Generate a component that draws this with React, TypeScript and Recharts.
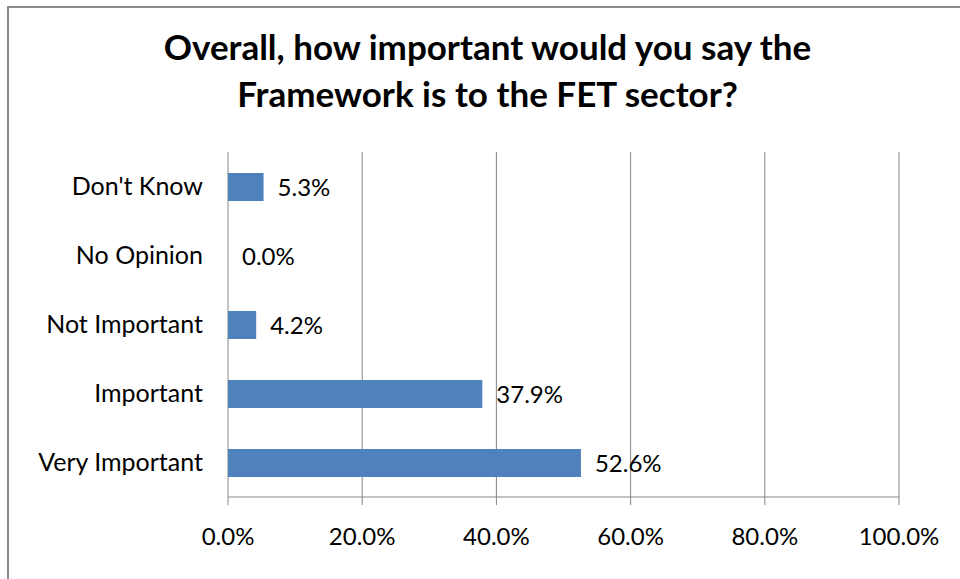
import * as React from "react";
import {
  BarChart,
  Bar,
  XAxis,
  YAxis,
  CartesianGrid,
  LabelList,
} from "recharts";

const categories = [
  "Don't Know",
  "No Opinion",
  "Not Important",
  "Important",
  "Very Important",
];
const percentages = [5.3, 0.0, 4.2, 37.9, 52.6];
const xTicks = [0, 20, 40, 60, 80, 100];
const boundaryTicks = [0, 1, 2, 3, 4, 5];

const titleLines = [
  "Overall, how important would you say the",
  "Framework is to the FET sector?",
];

const FONT = "Lato, 'Open Sans', sans-serif";
const pct = (v: number) => `${Number(v).toFixed(1)}%`;

function App() {
  const data = categories.map((name, i) => ({ name, value: percentages[i] }));

  return (
    <div
      style={{
        position: "absolute",
        left: 0,
        top: 0,
        width: 960,
        height: 579,
        background: "#fff",
        overflow: "hidden",
        fontFamily: FONT,
      }}
    >
      {/* chart frame, cut off on the right and bottom */}
      <div
        style={{
          position: "absolute",
          left: 7,
          top: 6,
          width: 1000,
          height: 700,
          borderLeft: "2px solid #8a8a8a",
          borderTop: "2px solid #8a8a8a",
        }}
      />
      <div
        style={{
          position: "absolute",
          left: 0,
          top: 23,
          width: 975,
          textAlign: "center",
          fontWeight: 700,
          fontSize: 35,
          lineHeight: "47px",
          color: "#000",
        }}
      >
        {titleLines.map((t) => (
          <div key={t}>{t}</div>
        ))}
      </div>
      <div style={{ position: "absolute", left: 0, top: 0 }}>
        <BarChart
          width={960}
          height={579}
          data={data}
          layout="vertical"
          margin={{ top: 152, right: 61, bottom: 22, left: 0 }}
        >
          <CartesianGrid horizontal={false} stroke="#868686" />
          <XAxis
            type="number"
            domain={[0, 100]}
            ticks={xTicks}
            tickFormatter={pct}
            stroke="#868686"
            tickSize={8}
            tickMargin={23}
            height={60}
            tick={{ fill: "#000", fontSize: 24, fontFamily: FONT }}
          />
          <YAxis
            yAxisId="bounds"
            type="number"
            domain={[0, 5]}
            ticks={boundaryTicks}
            tick={false}
            tickSize={8}
            width={0}
            stroke="#868686"
          />
          <YAxis
            type="category"
            dataKey="name"
            width={228}
            axisLine={false}
            tickLine={false}
            tickSize={0}
            tickMargin={25}
            tick={{ fill: "#000", fontSize: 25, fontFamily: FONT }}
          />
          <Bar
            dataKey="value"
            fill="#4F81BD"
            barSize={28}
            minPointSize={0.01}
            isAnimationActive={false}
          >
            <LabelList
              dataKey="value"
              position="right"
              offset={14}
              formatter={(v: any) => pct(v)}
              style={{ fill: "#000", fontSize: 24, fontFamily: FONT }}
            />
          </Bar>
        </BarChart>
      </div>
    </div>
  );
}

export default App;
